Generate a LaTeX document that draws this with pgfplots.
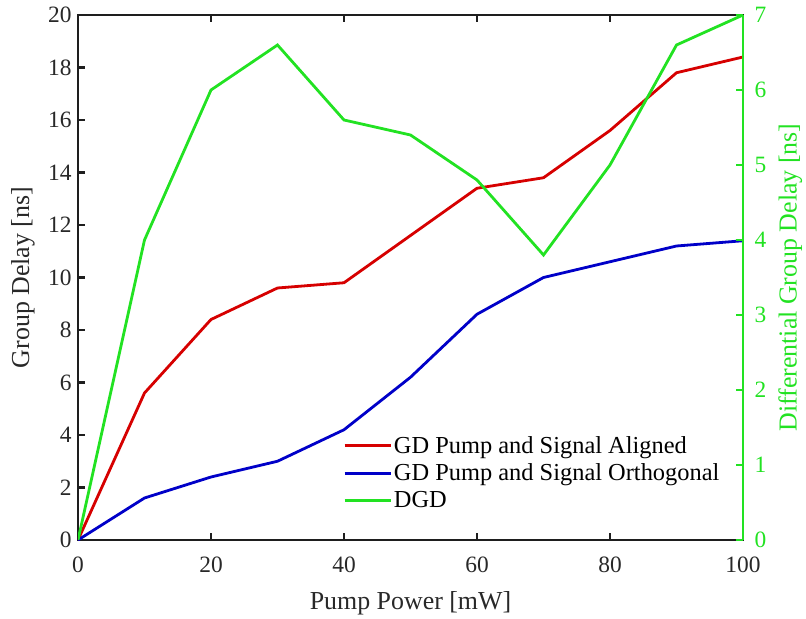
\documentclass[border=0pt]{standalone}
\usepackage{pgfplots}
\pgfplotsset{compat=1.18}
\usetikzlibrary{calc}
\usepackage{fontspec}
\setmainfont{Liberation Serif}
\definecolor{cred}{RGB}{214,0,0}
\definecolor{cblue}{RGB}{0,0,200}
\definecolor{cgreen}{RGB}{34,226,34}
\definecolor{caxis}{RGB}{30,30,30}
\definecolor{ctext}{RGB}{40,40,40}
\begin{document}
\begin{tikzpicture}
\pgfplotsset{
  common/.style={
    scale only axis, width=665bp, height=525bp,
    xmin=0, xmax=100,
    tick align=inside,
    major tick length=7bp,
    /pgf/number format/assume math mode=true,
    tick label style={font=\fontsize{23.5}{27}\selectfont},
    label style={font=\fontsize{26}{30}\selectfont, inner sep=0pt},
  }
}
\begin{axis}[common,
  ymin=0, ymax=20,
  xtick={0,20,40,60,80,100},
  ytick={0,2,...,20},
  ytick pos=left,
  xtick pos=both,
  axis line style={line width=2.8bp, color=caxis},
  every tick/.style={line width=2.2bp, color=caxis},
  tick label style={color=ctext},
  xlabel={Pump Power [mW]},
  ylabel={Group Delay [ns]},
  label style={color=ctext},
  xlabel style={at={(axis description cs:0.5,-0.12)}, anchor=center},
  ylabel style={at={(axis description cs:-0.083,0.5)}, anchor=center},
  xticklabel style={yshift=-13bp},
  yticklabel style={xshift=-3bp},
]
\addplot[cred, line width=2.8bp] coordinates {
(0,0) (10,5.6) (20,8.4) (30,9.6) (40,9.8) (50,11.6) (60,13.4) (70,13.8) (80,15.6) (90,17.8) (100,18.4)};
\addplot[cblue, line width=2.8bp] coordinates {
(0,0) (10,1.6) (20,2.4) (30,3.0) (40,4.2) (50,6.2) (60,8.6) (70,10.0) (80,10.6) (90,11.2) (100,11.4)};
\end{axis}
\begin{axis}[common,
  ymin=0, ymax=7,
  ytick={0,1,...,7},
  axis x line=none,
  axis y line*=right,
  axis line style={line width=2.8bp, color=cgreen, -},
  every tick/.style={line width=2.2bp, color=cgreen},
  yticklabel style={color=cgreen, xshift=8bp},
  ylabel={Differential Group Delay [ns]},
  ylabel style={color=cgreen, at={(axis description cs:1.071,0.5)}, anchor=center},
  legend style={at={(axis description cs:0.394,0.205)}, anchor=north west, draw=none, fill=white,
    font=\fontsize{24.5}{28}\selectfont, row sep=5bp,
    legend cell align=left},
  legend image code/.code={\draw[#1, line width=2.8bp] (0bp,0bp) -- (46bp,0bp);},
]
\addlegendimage{cred}
\addlegendentry{GD Pump and Signal Aligned}
\addlegendimage{cblue}
\addlegendentry{GD Pump and Signal Orthogonal}
\addplot[cgreen, line width=2.8bp] coordinates {
(0,0) (10,4.0) (20,6.0) (30,6.6) (40,5.6) (50,5.4) (60,4.8) (70,3.8) (80,5.0) (90,6.6) (100,7.0)};
\addlegendentry{DGD}
\end{axis}
\pgfresetboundingbox
\useasboundingbox ($(current axis.south west)+(-78bp,-79bp)$) rectangle ($(current axis.north east)+(63bp,15bp)$);
\end{tikzpicture}
\end{document}
